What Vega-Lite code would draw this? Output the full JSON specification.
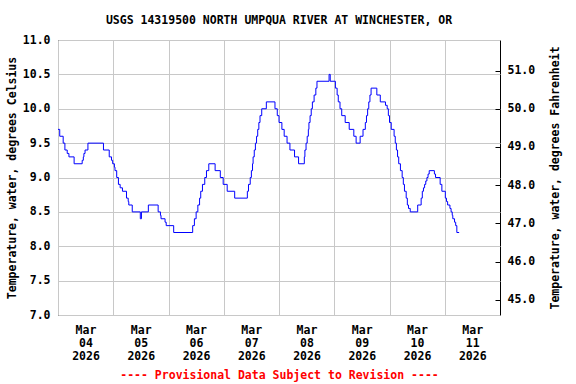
{
"$schema": "https://vega.github.io/schema/vega-lite/v6.json",
"width": 442, "height": 275,
"autosize": {"type": "none"},
"padding": {"left": 58, "top": 40, "right": 76, "bottom": 69},
"background": "white",
"config": {"view": {"stroke": "black", "strokeWidth": 1}, "font": "DejaVu Sans Mono"},
"title": {"text": "USGS 14319500 NORTH UMPQUA RIVER AT WINCHESTER, OR", "font": "DejaVu Sans Mono", "fontWeight": "bold", "fontSize": 11.5, "color": "black", "offset": 8, "anchor": "middle"},
"layer": [
{
"data": {"values": [
{"time":"2026-03-04T00:00","temp":9.7},{"time":"2026-03-04T00:45","temp":9.6},{"time":"2026-03-04T02:15","temp":9.5},{"time":"2026-03-04T03:00","temp":9.4},{"time":"2026-03-04T04:00","temp":9.35},{"time":"2026-03-04T04:45","temp":9.3},{"time":"2026-03-04T07:00","temp":9.2},{"time":"2026-03-04T10:30","temp":9.25},{"time":"2026-03-04T11:00","temp":9.3},{"time":"2026-03-04T11:15","temp":9.35},{"time":"2026-03-04T11:45","temp":9.4},{"time":"2026-03-04T13:00","temp":9.5},{"time":"2026-03-04T19:45","temp":9.4},{"time":"2026-03-04T22:15","temp":9.3},{"time":"2026-03-04T23:15","temp":9.25},{"time":"2026-03-04T23:45","temp":9.2},
{"time":"2026-03-05T00:30","temp":9.15},{"time":"2026-03-05T00:45","temp":9.1},{"time":"2026-03-05T01:30","temp":9.0},{"time":"2026-03-05T02:15","temp":8.9},{"time":"2026-03-05T03:00","temp":8.85},{"time":"2026-03-05T04:00","temp":8.8},{"time":"2026-03-05T05:45","temp":8.7},{"time":"2026-03-05T06:30","temp":8.65},{"time":"2026-03-05T06:45","temp":8.6},{"time":"2026-03-05T08:15","temp":8.5},{"time":"2026-03-05T11:45","temp":8.4},{"time":"2026-03-05T12:15","temp":8.5},{"time":"2026-03-05T15:15","temp":8.6},{"time":"2026-03-05T19:30","temp":8.5},{"time":"2026-03-05T20:30","temp":8.45},{"time":"2026-03-05T20:45","temp":8.4},{"time":"2026-03-05T22:30","temp":8.35},{"time":"2026-03-05T23:00","temp":8.3},
{"time":"2026-03-06T02:15","temp":8.2},{"time":"2026-03-06T10:30","temp":8.3},{"time":"2026-03-06T11:15","temp":8.4},{"time":"2026-03-06T12:00","temp":8.5},{"time":"2026-03-06T12:45","temp":8.6},{"time":"2026-03-06T13:30","temp":8.7},{"time":"2026-03-06T14:00","temp":8.8},{"time":"2026-03-06T14:45","temp":8.9},{"time":"2026-03-06T15:45","temp":9.0},{"time":"2026-03-06T16:30","temp":9.1},{"time":"2026-03-06T17:30","temp":9.2},{"time":"2026-03-06T20:15","temp":9.1},{"time":"2026-03-06T22:30","temp":9.0},{"time":"2026-03-06T23:45","temp":8.9},
{"time":"2026-03-07T01:30","temp":8.8},{"time":"2026-03-07T04:45","temp":8.7},{"time":"2026-03-07T10:15","temp":8.8},{"time":"2026-03-07T10:45","temp":8.9},{"time":"2026-03-07T11:30","temp":9.0},{"time":"2026-03-07T12:00","temp":9.1},{"time":"2026-03-07T12:30","temp":9.2},{"time":"2026-03-07T12:45","temp":9.3},{"time":"2026-03-07T13:15","temp":9.4},{"time":"2026-03-07T13:45","temp":9.5},{"time":"2026-03-07T14:15","temp":9.6},{"time":"2026-03-07T14:45","temp":9.7},{"time":"2026-03-07T15:15","temp":9.8},{"time":"2026-03-07T15:45","temp":9.9},{"time":"2026-03-07T16:30","temp":10.0},{"time":"2026-03-07T18:30","temp":10.1},{"time":"2026-03-07T22:15","temp":10.0},{"time":"2026-03-07T23:15","temp":9.9},
{"time":"2026-03-08T00:00","temp":9.8},{"time":"2026-03-08T01:15","temp":9.7},{"time":"2026-03-08T02:15","temp":9.6},{"time":"2026-03-08T03:30","temp":9.5},{"time":"2026-03-08T04:45","temp":9.4},{"time":"2026-03-08T06:45","temp":9.3},{"time":"2026-03-08T08:30","temp":9.2},{"time":"2026-03-08T11:00","temp":9.3},{"time":"2026-03-08T11:15","temp":9.4},{"time":"2026-03-08T11:45","temp":9.5},{"time":"2026-03-08T12:15","temp":9.6},{"time":"2026-03-08T12:45","temp":9.7},{"time":"2026-03-08T13:00","temp":9.8},{"time":"2026-03-08T13:30","temp":9.9},{"time":"2026-03-08T14:00","temp":10.0},{"time":"2026-03-08T14:30","temp":10.1},{"time":"2026-03-08T15:15","temp":10.2},{"time":"2026-03-08T16:00","temp":10.3},{"time":"2026-03-08T16:30","temp":10.4},{"time":"2026-03-08T21:45","temp":10.5},{"time":"2026-03-08T22:15","temp":10.4},
{"time":"2026-03-09T00:30","temp":10.3},{"time":"2026-03-09T01:15","temp":10.2},{"time":"2026-03-09T01:45","temp":10.1},{"time":"2026-03-09T02:30","temp":10.0},{"time":"2026-03-09T03:15","temp":9.9},{"time":"2026-03-09T04:45","temp":9.8},{"time":"2026-03-09T06:30","temp":9.7},{"time":"2026-03-09T08:30","temp":9.6},{"time":"2026-03-09T09:30","temp":9.5},{"time":"2026-03-09T11:15","temp":9.6},{"time":"2026-03-09T12:30","temp":9.7},{"time":"2026-03-09T13:30","temp":9.8},{"time":"2026-03-09T14:00","temp":9.9},{"time":"2026-03-09T14:30","temp":10.0},{"time":"2026-03-09T15:00","temp":10.1},{"time":"2026-03-09T15:30","temp":10.2},{"time":"2026-03-09T16:00","temp":10.3},{"time":"2026-03-09T18:30","temp":10.2},{"time":"2026-03-09T20:00","temp":10.1},{"time":"2026-03-09T22:15","temp":10.05},{"time":"2026-03-09T23:00","temp":10.0},{"time":"2026-03-09T23:30","temp":9.9},
{"time":"2026-03-10T00:00","temp":9.8},{"time":"2026-03-10T00:45","temp":9.7},{"time":"2026-03-10T02:00","temp":9.6},{"time":"2026-03-10T02:30","temp":9.5},{"time":"2026-03-10T03:00","temp":9.4},{"time":"2026-03-10T03:30","temp":9.3},{"time":"2026-03-10T04:00","temp":9.2},{"time":"2026-03-10T04:45","temp":9.1},{"time":"2026-03-10T05:30","temp":9.0},{"time":"2026-03-10T06:00","temp":8.9},{"time":"2026-03-10T06:30","temp":8.8},{"time":"2026-03-10T07:15","temp":8.7},{"time":"2026-03-10T07:45","temp":8.6},{"time":"2026-03-10T08:15","temp":8.55},{"time":"2026-03-10T09:00","temp":8.5},{"time":"2026-03-10T12:15","temp":8.6},{"time":"2026-03-10T13:45","temp":8.7},{"time":"2026-03-10T14:15","temp":8.8},{"time":"2026-03-10T14:45","temp":8.85},{"time":"2026-03-10T15:15","temp":8.9},{"time":"2026-03-10T15:45","temp":8.95},{"time":"2026-03-10T16:15","temp":9.0},{"time":"2026-03-10T16:45","temp":9.05},{"time":"2026-03-10T17:15","temp":9.1},{"time":"2026-03-10T19:30","temp":9.05},{"time":"2026-03-10T20:00","temp":9.0},{"time":"2026-03-10T22:00","temp":8.9},{"time":"2026-03-10T22:45","temp":8.8},
{"time":"2026-03-11T00:15","temp":8.7},{"time":"2026-03-11T00:45","temp":8.65},{"time":"2026-03-11T01:15","temp":8.6},{"time":"2026-03-11T02:15","temp":8.55},{"time":"2026-03-11T02:45","temp":8.5},{"time":"2026-03-11T03:15","temp":8.45},{"time":"2026-03-11T03:30","temp":8.4},{"time":"2026-03-11T04:15","temp":8.35},{"time":"2026-03-11T04:45","temp":8.3},{"time":"2026-03-11T05:15","temp":8.2},{"time":"2026-03-11T06:15","temp":8.2}
]},
"mark": {"type": "line", "interpolate": "step-after", "color": "#0000FF", "strokeWidth": 1},
"encoding": {
"x": {"field": "time", "type": "temporal",
 "scale": {"domain": [{"year": 2026, "month": 3, "date": 4}, {"year": 2026, "month": 3, "date": 12}]},
 "axis": {
  "values": [{"year":2026,"month":3,"date":4},{"year":2026,"month":3,"date":5},{"year":2026,"month":3,"date":6},{"year":2026,"month":3,"date":7},{"year":2026,"month":3,"date":8},{"year":2026,"month":3,"date":9},{"year":2026,"month":3,"date":10},{"year":2026,"month":3,"date":11}],
  "grid": true, "gridColor": "#C8C8C8", "gridWidth": 1,
  "ticks": false, "domain": false,
  "labelExpr": "[timeFormat(datum.value, '%b'), timeFormat(datum.value, '%d'), timeFormat(datum.value, '%Y')]",
  "labelOffset": 27.5, "labelAlign": "center", "labelBaseline": "top",
  "labelFont": "DejaVu Sans Mono", "labelFontWeight": "bold", "labelFontSize": 11.5, "labelColor": "black",
  "labelLineHeight": 13, "labelPadding": 9, "labelOverlap": false, "labelFlush": false,
  "title": "---- Provisional Data Subject to Revision ----", "titleColor": "#FF0000",
  "titleFont": "DejaVu Sans Mono", "titleFontWeight": "bold", "titleFontSize": 11.5, "titlePadding": 8
 }},
"y": {"field": "temp", "type": "quantitative",
 "scale": {"domain": [7, 11], "nice": false, "zero": false},
 "axis": {
  "values": [7, 7.5, 8, 8.5, 9, 9.5, 10, 10.5, 11], "format": ".1f",
  "grid": true, "gridColor": "#C8C8C8", "ticks": false, "domain": false,
  "labelFont": "DejaVu Sans Mono", "labelFontWeight": "bold", "labelFontSize": 11.5, "labelColor": "black",
  "labelPadding": 8, "labelFlush": false, "labelOverlap": false,
  "title": "Temperature, water, degrees Celsius",
  "titleFont": "DejaVu Sans Mono", "titleFontWeight": "bold", "titleFontSize": 11.5, "titleColor": "black", "titlePadding": 5
 }}
}
},
{
"data": {"values": [{"f": 45}, {"f": 51}]},
"mark": {"type": "point", "opacity": 0},
"encoding": {
"y": {"field": "f", "type": "quantitative",
 "scale": {"domain": [44.6, 51.8], "nice": false, "zero": false},
 "axis": {
  "orient": "right", "values": [45, 46, 47, 48, 49, 50, 51], "format": ".1f",
  "grid": false, "domain": false, "ticks": true, "tickSize": -5, "tickColor": "black",
  "labelFont": "DejaVu Sans Mono", "labelFontWeight": "bold", "labelFontSize": 11.5, "labelColor": "black",
  "labelPadding": 12, "labelFlush": false, "labelOverlap": false,
  "title": "Temperature, water, degrees Fahrenheit", "titleAngle": 270,
  "titleFont": "DejaVu Sans Mono", "titleFontWeight": "bold", "titleFontSize": 11.5, "titleColor": "black", "titlePadding": 26
 }}
}
}
],
"resolve": {"scale": {"y": "independent"}}
}
